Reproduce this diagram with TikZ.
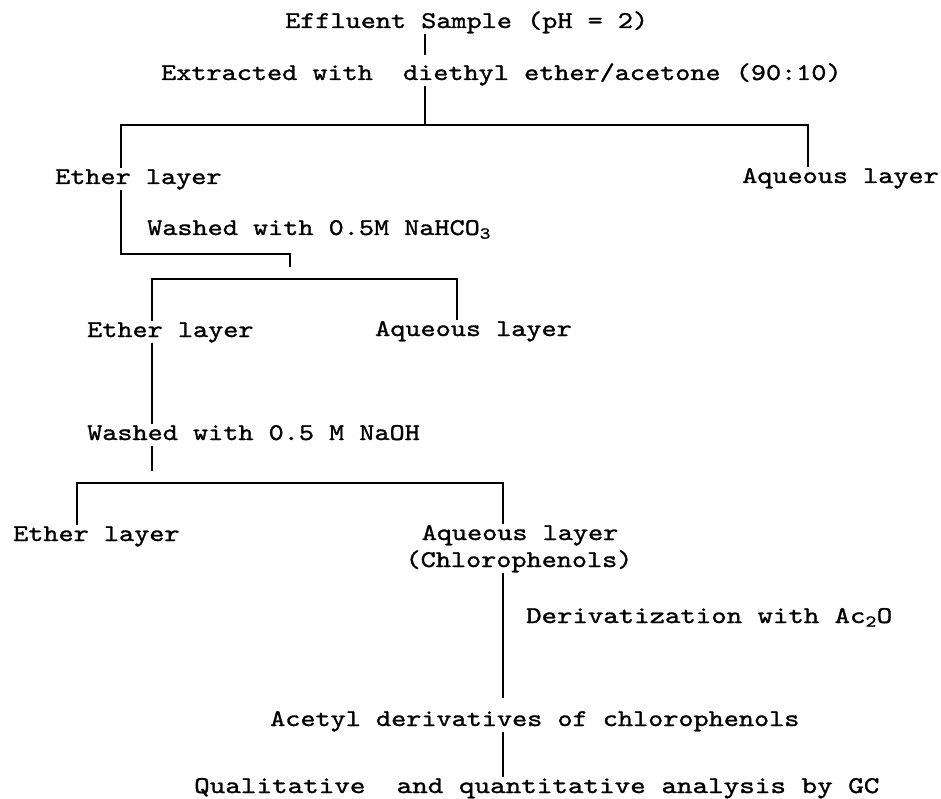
\documentclass[tikz,border=0pt]{standalone}
\usepackage{fontspec}
\newfontfamily\cour{lmmono10-regular}[Extension=.otf,FakeStretch=1.2,FakeBold=1.2]
\tikzset{
  lbl/.style={font=\cour\fontsize{24}{28}\selectfont, inner sep=2pt,
    text height=15pt, text depth=5pt, anchor=base west},
  clbl/.style={lbl, anchor=base},
  conn/.style={line width=1.7pt, line cap=rect}
}
\begin{document}
\frenchspacing
\begin{tikzpicture}[x=1pt,y=-1pt]
\useasboundingbox (0,0) rectangle (941,799);
% texts
\node[lbl] (eff) at (283,28) {Effluent Sample (pH = 2)};
\node[lbl] (ext) at (159,80) {Extracted with~~diethyl ether/acetone (90:10)};
\node[lbl] (ether1) at (53,184) {Ether layer};
\node[lbl] (aq1) at (740,183) {Aqueous layer};
\node[lbl] (wash1) at (145,235) {Washed with 0.5M NaHCO\textsubscript{3}};
\node[lbl] (ether2) at (85,337) {Ether layer};
\node[lbl] (aq2) at (373,336) {Aqueous layer};
\node[lbl] (wash2) at (85,440) {Washed with 0.5 M NaOH};
\node[lbl] (ether3) at (11,541) {Ether layer};
\node[clbl] (aq3) at (520,540) {Aqueous layer};
\node[clbl] (chl) at (519,567) {(Chlorophenols)};
\node[lbl] (deriv) at (524,623) {\scalebox{1.02}[1]{Derivatization with Ac\textsubscript{2}O}};
\node[lbl] (acetyl) at (268,726) {Acetyl derivatives of chlorophenols};
\node[lbl] (qual) at (192,793) {\scalebox{1.03}[1]{Qualitative~~and quantitative analysis by GC}};
% junction coordinates
\coordinate (j1) at (425,125);
\coordinate (l1) at (121,125);
\coordinate (r1) at (808,125);
\coordinate (j2) at (290,254);
\coordinate (j2e) at (290,266);
\coordinate (l2) at (152,279);
\coordinate (r2) at (457,279);
\coordinate (m3e) at (152,470);
\coordinate (l3) at (77,483);
\coordinate (r3) at (503,483);
% connectors
\draw[conn, shorten >=9pt] (eff.south -| j1) -- (ext.north -| j1);
\draw[conn] (ext.south -| j1) -- (j1);
\draw[conn] (ether1.north -| l1) |- (r1) -- (aq1.north -| r1);
\draw[conn] (ether1.south -| l1) |- (j2) -- (j2e);
\draw[conn] (ether2.north -| l2) |- (r2) -- (aq2.north -| r2);
\draw[conn] (ether2.south -| l2) -- (wash2.north -| l2);
\draw[conn] (wash2.south -| l2) -- (m3e);
\draw[conn] (ether3.north -| l3) |- (r3) -- (aq3.north -| r3);
\draw[conn, shorten >=12pt] (chl.south -| r3) -- (acetyl.north -| r3);
\draw[conn] (acetyl.south -| r3) -- (qual.north -| r3);
\end{tikzpicture}
\end{document}
